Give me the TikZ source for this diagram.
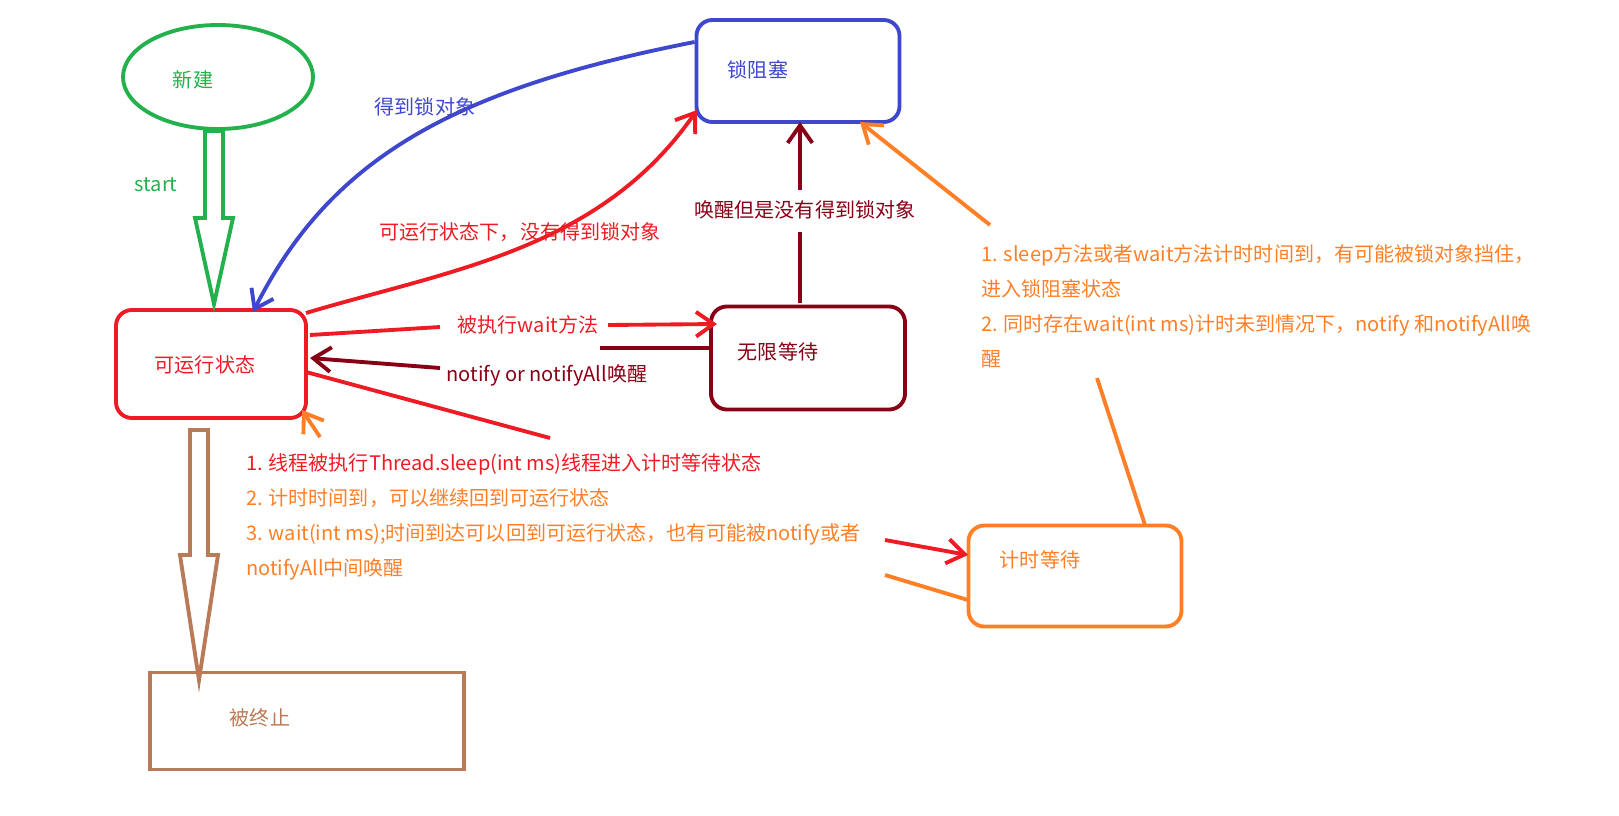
\documentclass[tikz,border=0pt]{standalone}
\usepackage{fontspec}
\setmainfont{Noto Sans CJK SC}
\usetikzlibrary{arrows.meta,shapes.geometric}
\definecolor{cg}{HTML}{22B14C}
\definecolor{cr}{HTML}{ED1C24}
\definecolor{cb}{HTML}{3F48CC}
\definecolor{cd}{HTML}{880015}
\definecolor{co}{HTML}{FF7F27}
\definecolor{cbr}{HTML}{B97A57}
\begin{document}
\begin{tikzpicture}[x=0.02cm,y=-0.02cm,
  every node/.style={font=\fontsize{11.4}{14}\selectfont},
  st/.style={draw,line width=2.2pt,rounded corners=9pt},
  ln/.style={line width=2.2pt},
  hd/.style={-{Straight Barb[length=10pt,width=14pt,line width=2.2pt]}}]
\useasboundingbox (0,0) rectangle (1619,815);
\node[draw=cg,line width=2.2pt,ellipse,minimum width=190*0.02cm,minimum height=104*0.02cm] (new) at (218,77) {};
\node[text=cg] at (193,80) {新建};
\node[st,draw=cr,minimum width=190*0.02cm,minimum height=108*0.02cm] (run) at (211,364) {};
\node[text=cr] at (205,365) {可运行状态};
\node[st,draw=cb,minimum width=203*0.02cm,minimum height=102*0.02cm] (blk) at (798,71) {};
\node[text=cb] at (758,70) {锁阻塞};
\node[st,draw=cd,minimum width=194*0.02cm,minimum height=103*0.02cm] (wt) at (808,358) {};
\node[text=cd] at (778,352) {无限等待};
\node[st,draw=co,minimum width=213*0.02cm,minimum height=101*0.02cm] (tw) at (1075,576) {};
\node[text=co] at (1040,560) {计时等待};
\node[draw=cbr,line width=2.2pt,minimum width=314*0.02cm,minimum height=97*0.02cm] (end) at (307,721) {};
\node[text=cbr] at (260,718) {被终止};
% start arrow
\draw[cg,ln] (205,131) -- (205,218) -- (195,218) -- (214,304) -- (233,218) -- (223,218) -- (223,131) -- cycle;
\node[text=cg] at (156,185) {start};
% terminate arrow
\draw[cbr,ln] (190,430) -- (190,555) -- (180,555) -- (199,680) -- (218,555) -- (208,555) -- (208,430) -- cycle;
% blue
\draw[cb,ln,hd] (blk.west|-0,42) .. controls (450,90) and (330,160) .. (253,312);
\node[text=cb] at (425,107) {得到锁对象};
% red to lock
\draw[cr,ln,hd] (306,313) .. controls (450,270) and (600,250) .. (697,110);
\node[text=cr] at (520,232) {可运行状态下，没有得到锁对象};
% wait
\node[text=cr] (wl) at (528,325) {被执行wait方法};
\draw[cr,ln] (310,335) -- (440,327);
\draw[cr,ln,hd] (608,325) -- (717,324);
\node[text=cd] (nl) at (547,375) {notify or notifyAll唤醒};
\draw[cd,ln] (711,348) -- (600,348);
\draw[cd,ln,hd] (440,368) -- (310,358);
% wake
\draw[cd,ln] (800,303) -- (800,232);
\node[text=cd] at (805,210) {唤醒但是没有得到锁对象};
\draw[cd,ln,hd] (800,190) -- (800,122);
% orange to lock
\draw[co,ln,hd] (990,225) -- (860,122);
\node[text=co,anchor=west,align=left] at (975,306) {1. sleep方法或者wait方法计时时间到，有可能被锁对象挡住，\\[6pt]进入锁阻塞状态\\[6pt]2. 同时存在wait(int ms)计时未到情况下，notify 和notifyAll唤\\[6pt]醒};
\draw[co,ln] (1097,378) -- (1145,525);
% timed
\draw[cr,ln] (306,372) -- (550,438);
\draw[co,ln,hd] (320,437) -- (302,410);
\node[anchor=west,align=left,text=co] at (240,517) {\textcolor{cr}{1. 线程被执行Thread.sleep(int ms)线程进入计时等待状态}\\[6pt]2. 计时时间到，可以继续回到可运行状态\\[6pt]3. wait(int ms);时间到达可以回到可运行状态，也有可能被notify或者\\[6pt]notifyAll中间唤醒};
\draw[cr,ln,hd] (885,540) -- (968,555);
\draw[co,ln] (968,600) -- (885,575);
\end{tikzpicture}
\end{document}
